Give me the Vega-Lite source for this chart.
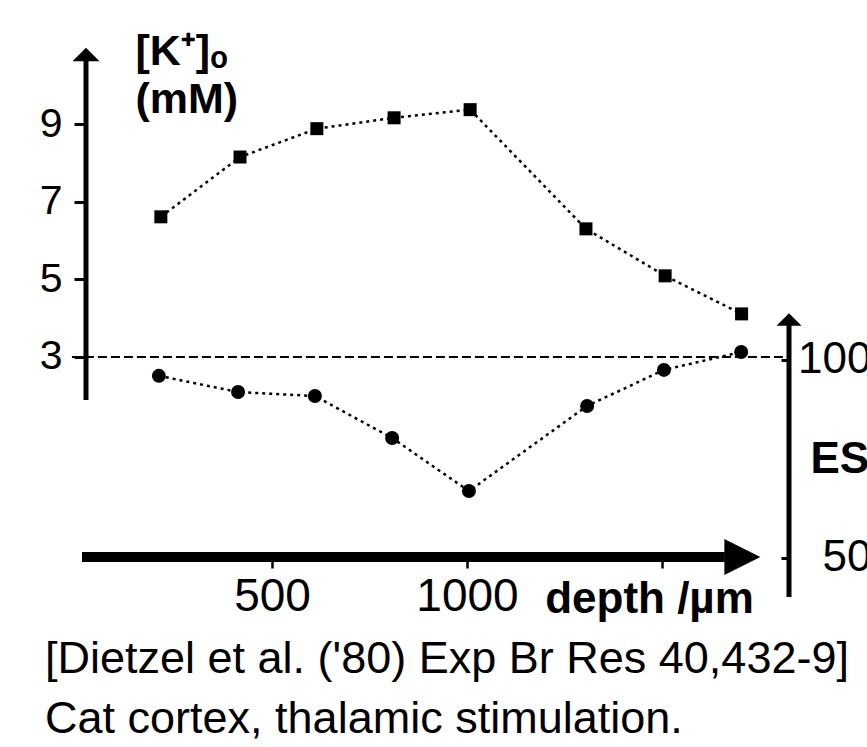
{
  "$schema": "https://vega.github.io/schema/vega-lite/v6.json",
  "width": 703,
  "height": 547,
  "autosize": {"type": "none"},
  "padding": {"left": 86, "top": 50, "right": 78, "bottom": 150},
  "config": {
    "view": {"stroke": null},
    "font": "Liberation Sans",
    "axis": {"grid": false, "domain": false, "labelFont": "Liberation Sans", "titleFont": "Liberation Sans", "labelColor": "black", "titleColor": "black", "tickColor": "black"}
  },
  "title": {
    "text": ["[Dietzel et al. ('80) Exp Br Res 40,432-9]", "Cat cortex, thalamic stimulation."],
    "orient": "bottom",
    "anchor": "start",
    "frame": "group",
    "fontSize": 45,
    "fontWeight": "normal",
    "font": "Liberation Sans",
    "color": "black",
    "lineHeight": 60,
    "baseline": "top",
    "dx": -41,
    "offset": 16
  },
  "datasets": {
    "kplus": [
      {"depth": 215, "k": 6.61},
      {"depth": 418, "k": 8.15},
      {"depth": 615, "k": 8.88},
      {"depth": 813, "k": 9.16},
      {"depth": 1008, "k": 9.37},
      {"depth": 1305, "k": 6.30},
      {"depth": 1508, "k": 5.09},
      {"depth": 1704, "k": 4.11}
    ],
    "es": [
      {"depth": 210, "es": 96.0},
      {"depth": 413, "es": 91.9},
      {"depth": 610, "es": 90.9},
      {"depth": 808, "es": 80.3},
      {"depth": 1005, "es": 66.9},
      {"depth": 1308, "es": 88.4},
      {"depth": 1505, "es": 97.5},
      {"depth": 1703, "es": 102.0}
    ],
    "one": [{}]
  },
  "layer": [
    {
      "layer": [
        {
          "data": {"name": "kplus"},
          "mark": {"type": "line", "strokeDash": [3, 4], "strokeWidth": 2.5, "color": "black"},
          "encoding": {
            "x": {
              "field": "depth", "type": "quantitative",
              "scale": {"domain": [23.08, 1825.6], "nice": false, "zero": false},
              "axis": {
                "orient": "bottom", "offset": -40, "values": [500, 1000, 1500], "format": "d",
                "labelExpr": "datum.value == 1500 ? '' : datum.label",
                "tickSize": 11, "tickWidth": 2.5, "labelFontSize": 46, "labelPadding": 6,
                "labelFlush": false,
                "title": "depth /µm", "titleFontSize": 44, "titleFontWeight": "bold",
                "titleX": 563, "titleY": 55, "titleAlign": "center", "titleBaseline": "alphabetic"
              }
            },
            "y": {
              "field": "k", "type": "quantitative",
              "scale": {"domain": [-3.181, 10.906], "nice": false, "zero": false},
              "axis": {
                "orient": "left", "values": [3, 5, 7, 9], "tickSize": 12, "tickWidth": 3,
                "labelFontSize": 41, "labelPadding": 12, "labelBaseline": "middle",
                "title": ["[K⁺]ₒ", "(mM)"], "titleAngle": 0, "titleX": 49, "titleY": 14,
                "titleAlign": "left", "titleBaseline": "alphabetic", "titleFontSize": 43,
                "titleFontWeight": "bold", "titleLineHeight": 48
              }
            }
          }
        },
        {
          "data": {"name": "kplus"},
          "mark": {"type": "point", "shape": "square", "filled": true, "opacity": 1, "size": 169, "color": "black"},
          "encoding": {
            "x": {"field": "depth", "type": "quantitative", "scale": {"domain": [23.08, 1825.6], "nice": false, "zero": false}},
            "y": {"field": "k", "type": "quantitative", "scale": {"domain": [-3.181, 10.906], "nice": false, "zero": false}}
          }
        },
        {
          "data": {"name": "one"},
          "mark": {"type": "rule", "strokeDash": [9, 4], "strokeWidth": 2, "color": "black"},
          "encoding": {
            "x": {"datum": -13, "type": "quantitative", "scale": {"domain": [23.08, 1825.6], "nice": false, "zero": false}},
            "x2": {"datum": 1825.6},
            "y": {"datum": 3, "type": "quantitative", "scale": {"domain": [-3.181, 10.906], "nice": false, "zero": false}}
          }
        },
        {
          "data": {"name": "one"},
          "mark": {"type": "rule", "strokeWidth": 5, "color": "black", "strokeCap": "butt"},
          "encoding": {
            "x": {"datum": 23.08, "type": "quantitative", "scale": {"domain": [23.08, 1825.6], "nice": false, "zero": false}},
            "y": {"datum": 1.89, "type": "quantitative", "scale": {"domain": [-3.181, 10.906], "nice": false, "zero": false}},
            "y2": {"datum": 10.7}
          }
        },
        {
          "data": {"name": "one"},
          "mark": {"type": "point", "shape": "M-1,0.5L0,-0.5L1,0.5Z", "filled": true, "opacity": 1, "size": 729, "color": "black", "strokeWidth": 0},
          "encoding": {
            "x": {"datum": 23.08, "type": "quantitative", "scale": {"domain": [23.08, 1825.6], "nice": false, "zero": false}},
            "y": {"datum": 10.79, "type": "quantitative", "scale": {"domain": [-3.181, 10.906], "nice": false, "zero": false}}
          }
        },
        {
          "data": {"name": "one"},
          "mark": {"type": "rule", "strokeWidth": 10, "color": "black", "strokeCap": "butt"},
          "encoding": {
            "x": {"datum": 12.8, "type": "quantitative", "scale": {"domain": [23.08, 1825.6], "nice": false, "zero": false}},
            "x2": {"datum": 1661},
            "y": {"datum": -2.15, "type": "quantitative", "scale": {"domain": [-3.181, 10.906], "nice": false, "zero": false}}
          }
        },
        {
          "data": {"name": "one"},
          "mark": {"type": "point", "shape": "M-1,-1L1,0L-1,1Z", "filled": true, "opacity": 1, "size": 1296, "color": "black", "strokeWidth": 0},
          "encoding": {
            "x": {"datum": 1706, "type": "quantitative", "scale": {"domain": [23.08, 1825.6], "nice": false, "zero": false}},
            "y": {"datum": -2.15, "type": "quantitative", "scale": {"domain": [-3.181, 10.906], "nice": false, "zero": false}}
          }
        }
      ]
    },
    {
      "layer": [
        {
          "data": {"name": "es"},
          "mark": {"type": "line", "strokeDash": [3, 4], "strokeWidth": 2.5, "color": "black"},
          "encoding": {
            "x": {"field": "depth", "type": "quantitative", "scale": {"domain": [23.08, 1825.6], "nice": false, "zero": false}},
            "y": {
              "field": "es", "type": "quantitative",
              "scale": {"domain": [40.15, 178.28], "nice": false, "zero": false},
              "axis": {
                "orient": "right", "values": [50, 100], "tickSize": -8, "tickWidth": 3,
                "labelFontSize": 44, "labelPadding": 90, "labelAlign": "right", "labelBaseline": "middle",
                "title": "ES", "titleAngle": 0, "titleX": 21, "titleY": 409, "titleAlign": "left",
                "titleBaseline": "middle", "titleFontSize": 44, "titleFontWeight": "bold"
              }
            }
          }
        },
        {
          "data": {"name": "es"},
          "mark": {"type": "point", "shape": "circle", "filled": true, "opacity": 1, "size": 196, "color": "black"},
          "encoding": {
            "x": {"field": "depth", "type": "quantitative", "scale": {"domain": [23.08, 1825.6], "nice": false, "zero": false}},
            "y": {"field": "es", "type": "quantitative", "scale": {"domain": [40.15, 178.28], "nice": false, "zero": false}}
          }
        },
        {
          "data": {"name": "one"},
          "mark": {"type": "rule", "strokeWidth": 5, "color": "black", "strokeCap": "butt"},
          "encoding": {
            "x": {"datum": 1825.6, "type": "quantitative", "scale": {"domain": [23.08, 1825.6], "nice": false, "zero": false}},
            "y": {"datum": 40.15, "type": "quantitative", "scale": {"domain": [40.15, 178.28], "nice": false, "zero": false}},
            "y2": {"datum": 109}
          }
        },
        {
          "data": {"name": "one"},
          "mark": {"type": "point", "shape": "M-1,0.5L0,-0.5L1,0.5Z", "filled": true, "opacity": 1, "size": 625, "color": "black", "strokeWidth": 0},
          "encoding": {
            "x": {"datum": 1825.6, "type": "quantitative", "scale": {"domain": [23.08, 1825.6], "nice": false, "zero": false}},
            "y": {"datum": 110.2, "type": "quantitative", "scale": {"domain": [40.15, 178.28], "nice": false, "zero": false}}
          }
        }
      ]
    }
  ],
  "resolve": {"scale": {"y": "independent"}}
}
